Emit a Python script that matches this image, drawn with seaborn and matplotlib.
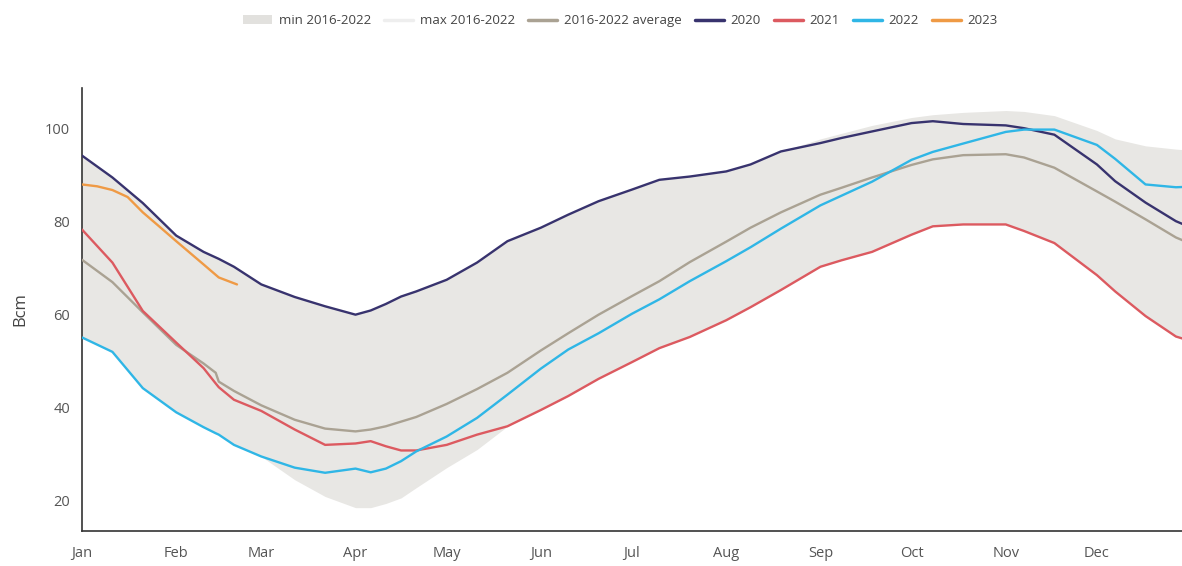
import matplotlib.pyplot as plt
import numpy as np
import pandas as pd
import seaborn as sns
from matplotlib.lines import Line2D
from matplotlib.patches import Patch

# day of year for each reading
days = [0, 10, 20, 31, 40, 44, 45, 50, 59, 70, 80, 90, 95, 100, 105, 110, 120,
        130, 140, 151, 160, 170, 181, 190, 200, 212, 220, 230, 243, 250, 260,
        273, 280, 290, 304, 310, 320, 334, 340, 350, 360, 364]

y2020 = [94.2, 89.5, 84.0, 77.0, 73.5, 72.3, 72.0, 70.3, 66.5, 63.8, 61.8, 60.0,
         60.9, 62.3, 63.9, 65.0, 67.5, 71.2, 75.8, 78.7, 81.5, 84.4, 86.9, 89.0,
         89.7, 90.8, 92.3, 95.1, 96.9, 98.0, 99.4, 101.2, 101.6, 101.0, 100.7,
         100.1, 98.7, 92.3, 88.7, 84.1, 80.1, 79.0]
y2021 = [78.3, 71.2, 60.8, 54.0, 48.5, 45.2, 44.4, 41.7, 39.3, 35.3, 32.0, 32.3,
         32.8, 31.7, 30.8, 30.8, 32.0, 34.2, 36.0, 39.5, 42.5, 46.2, 49.8, 52.8,
         55.2, 58.8, 61.6, 65.3, 70.3, 71.7, 73.5, 77.2, 79.0, 79.4, 79.4, 78.0,
         75.4, 68.5, 65.0, 59.7, 55.3, 54.5]
y2022 = [55.1, 52.0, 44.2, 39.0, 35.8, 34.5, 34.2, 32.0, 29.5, 27.1, 26.0, 26.9,
         26.1, 26.9, 28.5, 30.6, 33.8, 37.8, 42.8, 48.4, 52.5, 56.0, 60.2, 63.3,
         67.2, 71.5, 74.5, 78.5, 83.5, 85.6, 88.6, 93.3, 95.0, 96.8, 99.3, 99.8,
         99.8, 96.5, 93.5, 88.0, 87.4, 87.5]
avg = [71.8, 67.0, 60.5, 53.5, 49.5, 47.5, 45.6, 43.6, 40.5, 37.4, 35.5, 34.9,
       35.3, 36.0, 37.0, 38.0, 40.8, 44.0, 47.5, 52.3, 56.0, 60.0, 64.0, 67.2,
       71.3, 75.7, 78.7, 82.0, 85.8, 87.3, 89.5, 92.2, 93.4, 94.3, 94.5, 93.8,
       91.6, 86.5, 84.3, 80.5, 76.6, 75.5]
band_min = [55.1, 52.0, 44.2, 39.0, 35.8, 34.5, 34.2, 32.0, 29.5, 24.5, 20.9,
            18.5, 18.5, 19.4, 20.6, 22.8, 27.1, 31.0, 36.0, 39.5, 42.5, 46.2,
            49.8, 52.8, 55.2, 58.8, 61.6, 65.3, 70.3, 71.7, 73.5, 77.2, 79.0,
            79.4, 79.4, 78.0, 75.4, 68.5, 65.0, 59.7, 55.3, 54.5]
band_max = [94.2, 89.5, 84.0, 77.0, 73.5, 72.3, 72.0, 70.3, 66.5, 63.8, 61.8,
            60.0, 60.9, 62.3, 63.9, 65.0, 67.5, 71.2, 75.8, 78.7, 81.5, 84.4,
            86.9, 89.0, 89.7, 90.8, 92.3, 95.1, 97.8, 99.0, 100.7, 102.4, 103.0,
            103.5, 103.9, 103.7, 102.8, 99.6, 97.8, 96.3, 95.6, 95.4]

days_2023 = [0, 5, 10, 15, 20, 25, 31, 40, 45, 51]
y2023 = [88.0, 87.6, 86.8, 85.3, 82.0, 79.2, 75.8, 70.8, 68.0, 66.5]

month_starts = [0, 31, 59, 90, 120, 151, 181, 212, 243, 273, 304, 334]
month_labels = ["Jan", "Feb", "Mar", "Apr", "May", "Jun", "Jul", "Aug", "Sep",
                "Oct", "Nov", "Dec"]

colors = {
    "2016-2022 average": "#aaa293",
    "2020": "#38336e",
    "2021": "#dc5a60",
    "2022": "#2fb6e6",
    "2023": "#ef9a45",
}
band_color = "#e8e7e4"

sns.set_style("white")
plt.rcParams["font.family"] = ["Open Sans", "DejaVu Sans"]

frames = [
    pd.DataFrame({"day": days, "bcm": avg, "series": "2016-2022 average"}),
    pd.DataFrame({"day": days, "bcm": y2020, "series": "2020"}),
    pd.DataFrame({"day": days, "bcm": y2021, "series": "2021"}),
    pd.DataFrame({"day": days, "bcm": y2022, "series": "2022"}),
    pd.DataFrame({"day": days_2023, "bcm": y2023, "series": "2023"}),
]
df = pd.concat(frames, ignore_index=True)

fig = plt.figure(figsize=(11.82, 5.66), dpi=100)
ax = fig.add_axes([0.0694, 0.062, 0.9306, 0.783])

ax.fill_between(days, band_min, band_max, color=band_color, lw=0, zorder=1)
sns.lineplot(data=df, x="day", y="bcm", hue="series", palette=colors,
             linewidth=1.7, legend=False, ax=ax, zorder=3)

ax.set_xlim(0, 362)
ax.set_ylim(13.5, 108.8)
ax.set_xticks(month_starts)
ax.set_xticklabels(month_labels)
ax.set_yticks([20, 40, 60, 80, 100])
ax.set_xlabel("")
ax.set_ylabel("Bcm", fontsize=12, color="#444444", labelpad=12)

for side in ["top", "right"]:
    ax.spines[side].set_visible(False)
for side in ["left", "bottom"]:
    ax.spines[side].set_color("#333333")
    ax.spines[side].set_linewidth(1.2)
ax.tick_params(axis="both", direction="out", length=5, width=1,
               color="#333333", labelcolor="#555555", labelsize=10.5)
ax.tick_params(axis="x", pad=6)

handles = [
    Patch(facecolor="#e2e1de", edgecolor="none", label="min 2016-2022"),
    Line2D([], [], color="#eeeeee", lw=2.5, label="max 2016-2022"),
]
for name, c in colors.items():
    handles.append(Line2D([], [], color=c, lw=2.5, label=name))
fig.legend(handles=handles, loc="center", bbox_to_anchor=(0.525, 0.963),
           ncol=7, frameon=False, fontsize=9.5, handlelength=2.2,
           handletextpad=0.5, columnspacing=1.0, labelcolor="#444444")

fig.savefig("out.png", dpi=100)
